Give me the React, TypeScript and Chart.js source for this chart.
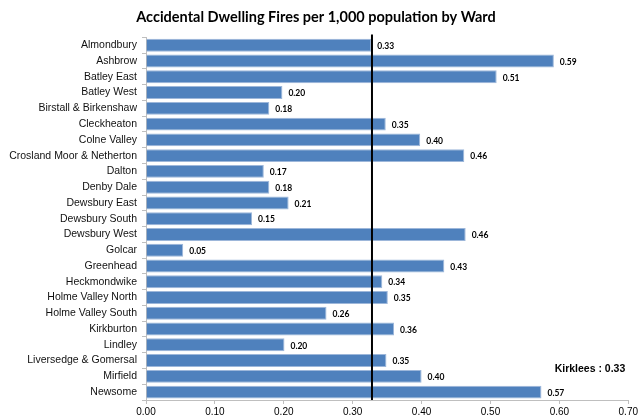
import React, { useEffect, useRef } from "react";
import { Chart, registerables } from "chart.js";

Chart.register(...registerables);

const TITLE = "Accidental Dwelling Fires per 1,000 population by Ward";

const wards = [
  "Almondbury",
  "Ashbrow",
  "Batley East",
  "Batley West",
  "Birstall & Birkenshaw",
  "Cleckheaton",
  "Colne Valley",
  "Crosland Moor & Netherton",
  "Dalton",
  "Denby Dale",
  "Dewsbury East",
  "Dewsbury South",
  "Dewsbury West",
  "Golcar",
  "Greenhead",
  "Heckmondwike",
  "Holme Valley North",
  "Holme Valley South",
  "Kirkburton",
  "Lindley",
  "Liversedge & Gomersal",
  "Mirfield",
  "Newsome",
];

const rates = [
  0.327, 0.592, 0.509, 0.198, 0.179, 0.348, 0.398, 0.462, 0.171, 0.179, 0.207,
  0.154, 0.464, 0.054, 0.433, 0.343, 0.351, 0.262, 0.36, 0.201, 0.349, 0.4,
  0.574,
];

const kirkleesAverage = 0.328;
const kirkleesLabel = "Kirklees : 0.33";

const xTicks = [0, 0.1, 0.2, 0.3, 0.4, 0.5, 0.6, 0.7];

const overlayPlugin = {
  id: "overlay",
  afterDatasetsDraw(chart: any) {
    const { ctx, chartArea, scales } = chart;
    const meta = chart.getDatasetMeta(0);
    ctx.save();
    // value labels
    ctx.font = "bold 8.5px Lato, sans-serif";
    ctx.fillStyle = "#000";
    ctx.textAlign = "left";
    ctx.textBaseline = "middle";
    meta.data.forEach((bar: any, i: number) => {
      ctx.fillText(rates[i].toFixed(2), bar.x + 6, bar.y + 1);
    });
    // average line
    const x = scales.x.getPixelForValue(kirkleesAverage);
    ctx.strokeStyle = "#000";
    ctx.lineWidth = 2;
    ctx.beginPath();
    ctx.moveTo(x, chartArea.top - 3);
    ctx.lineTo(x, chartArea.bottom);
    ctx.stroke();
    // label
    ctx.font = "bold 10.5px 'Liberation Sans', Arial, sans-serif";
    ctx.textAlign = "right";
    ctx.fillText(kirkleesLabel, chartArea.right - 3, scales.y.getPixelForValue(20.5) + 0.5);
    ctx.restore();
  },
};

export default function App() {
  const ref = useRef<HTMLCanvasElement>(null);
  useEffect(() => {
    if (!ref.current) return;
    const chart = new Chart(ref.current, {
      type: "bar",
      data: {
        labels: wards,
        datasets: [
          {
            data: rates,
            backgroundColor: "#4f81bd",
            borderColor: "#9db7da",
            borderWidth: 1,
            barPercentage: 0.82,
            categoryPercentage: 1,
          },
        ],
      },
      options: {
        indexAxis: "y",
        animation: false,
        responsive: false,
        maintainAspectRatio: false,
        layout: { padding: { left: 0, right: 8, top: 0, bottom: 0 } },
        plugins: {
          legend: { display: false },
          tooltip: { enabled: false },
          title: {
            display: true,
            text: TITLE,
            color: "#000",
            font: { family: "Lato, sans-serif", size: 14.5, weight: "bold" },
            padding: { top: 9, bottom: 11 },
          },
        },
        scales: {
          x: {
            min: 0,
            max: 0.7,
            afterBuildTicks: (axis: any) => {
              axis.ticks = xTicks.map((v) => ({ value: v }));
            },
            afterFit: (axis: any) => {
              axis.height = 18;
            },
            ticks: {
              color: "#000",
              font: { family: "'Liberation Sans', Arial, sans-serif", size: 10 },
              padding: 2,
              maxRotation: 0,
              callback: (v: any) => Number(v).toFixed(2),
            },
            grid: {
              drawOnChartArea: false,
              drawTicks: true,
              tickLength: 4,
              color: "#bfbfbf",
            },
            border: { color: "#bfbfbf" },
          },
          y: {
            afterFit: (axis: any) => {
              axis.width = 146;
            },
            ticks: {
              color: "#111",
              font: { family: "'Liberation Sans', Arial, sans-serif", size: 10.5 },
              padding: 5,
              autoSkip: false,
            },
            grid: {
              offset: true,
              drawOnChartArea: false,
              drawTicks: true,
              tickLength: 4,
              color: "#bfbfbf",
            },
            border: { color: "#bfbfbf" },
          },
        },
      },
      plugins: [overlayPlugin],
    });
    return () => chart.destroy();
  }, []);
  return (
    <div style={{ position: "absolute", left: 0, top: 0, width: 640, height: 418, background: "#fff" }}>
      <canvas ref={ref} width={640} height={418} style={{ width: 640, height: 418 }} />
    </div>
  );
}
